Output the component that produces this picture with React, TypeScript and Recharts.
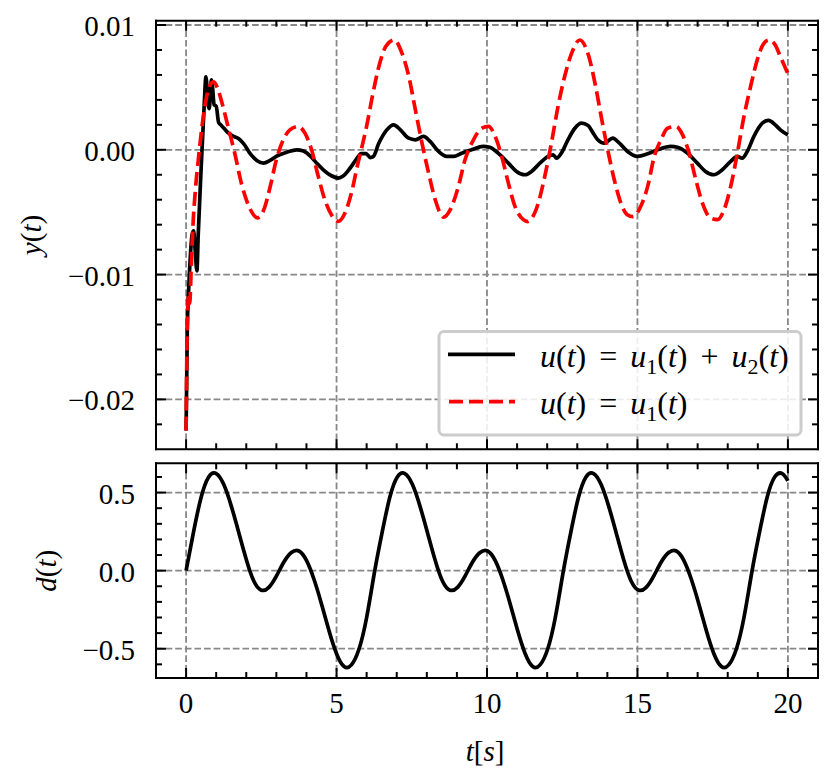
import React from 'react';
import { LineChart, Line, XAxis, YAxis, CartesianGrid, Legend } from 'recharts';

const FONT = 'Liberation Serif, Times New Roman, serif';
const FS = 29;

// ---- axis ticks ----
const xMajor = [0, 5, 10, 15, 20];
const xLabels = ['0', '5', '10', '15', '20'];
const xMinor = [0, 1, 2, 3, 4, 5, 6, 7, 8, 9, 10, 11, 12, 13, 14, 15, 16, 17, 18, 19, 20];

const yMajor = [-0.02, -0.01, 0, 0.01];
const yLabels = ['\u22120.02', '\u22120.01', '0.00', '0.01'];
const yMinor = [-0.022, -0.02, -0.018, -0.016, -0.014, -0.012, -0.01, -0.008, -0.006, -0.004, -0.002, 0, 0.002, 0.004, 0.006, 0.008, 0.01];

const dMajor = [-0.5, 0, 0.5];
const dLabels = ['\u22120.5', '0.0', '0.5'];
const dMinor = [-0.6, -0.5, -0.4, -0.3, -0.2, -0.1, 0, 0.1, 0.2, 0.3, 0.4, 0.5, 0.6];

// ---- y(t), u = u1 + u2 (solid black) ----
const solidT = [0, 0.04, 0.08, 0.13, 0.2, 0.25, 0.3, 0.36, 0.4, 0.5, 0.6, 0.66, 0.72, 0.77, 0.84, 0.88, 0.93, 1.0, 1.08, 1.15, 1.25, 1.4, 1.58, 1.74, 1.91, 2.13, 2.35, 2.57, 2.79, 3.01, 3.34, 3.68, 3.9, 4.12, 4.34, 4.56, 4.83, 5.06, 5.22, 5.44, 5.66, 5.82, 5.98, 6.12, 6.22, 6.4, 6.67, 6.9, 7.12, 7.4, 7.62, 7.89, 8.11, 8.39, 8.66, 8.89, 9.16, 9.49, 9.87, 10.09, 10.37, 10.71, 10.98, 11.26, 11.48, 11.76, 12.03, 12.2, 12.31, 12.47, 12.69, 12.92, 13.14, 13.36, 13.5, 13.68, 13.9, 14.18, 14.4, 14.67, 15.0, 15.34, 15.67, 16.11, 16.33, 16.66, 16.99, 17.26, 17.54, 17.82, 18.1, 18.32, 18.48, 18.65, 18.87, 19.15, 19.36, 19.58, 19.75, 20.0];
const solidY = [-0.0225, -0.0145, -0.0115, -0.009, -0.0068, -0.0065, -0.008, -0.0097, -0.007, -0.0015, 0.0035, 0.00585, 0.004, 0.0033, 0.0056, 0.005, 0.0036, 0.0035, 0.0022, 0.002, 0.00175, 0.00135, 0.00107, 0.0009, 0.0005, -0.0003, -0.00085, -0.00107, -0.00085, -0.0005, -0.0002, 0.0, -0.0001, -0.00048, -0.00107, -0.0016, -0.00208, -0.00227, -0.0021, -0.0015, -0.00075, -0.0003, -0.0003, -0.00062, -0.00055, 0.0005, 0.0016, 0.002, 0.0016, 0.00093, 0.0008, 0.00107, 0.00067, -0.00013, -0.00053, -0.00053, -0.00027, 0.0, 0.00027, 0.0002, -0.00027, -0.00107, -0.00173, -0.002, -0.00173, -0.00107, -0.00053, -0.0004, -0.00067, -0.00027, 0.0008, 0.00173, 0.00213, 0.00195, 0.00145, 0.0008, 0.00053, 0.00093, 0.00053, -0.00013, -0.00053, -0.00032, 0.0, 0.00027, 0.0002, -0.00027, -0.00107, -0.00173, -0.002, -0.0016, -0.00093, -0.00053, -0.00067, -0.00013, 0.00107, 0.00213, 0.00235, 0.002, 0.0016, 0.0012];

// ---- y(t), u = u1 (red dashed) ----
const dashT = [0, 0.04, 0.08, 0.12, 0.17, 0.23, 0.31, 0.42, 0.53, 0.64, 0.78, 0.92, 1.05, 1.2, 1.4, 1.6, 1.85, 2.1, 2.37, 2.6, 2.8, 3.0, 3.23, 3.45, 3.73, 3.95, 4.17, 4.39, 4.61, 4.83, 5.06, 5.28, 5.5, 5.7, 5.85, 6.0, 6.2, 6.42, 6.64, 6.92, 7.18, 7.4, 7.62, 7.84, 8.06, 8.28, 8.56, 8.78, 9.05, 9.27, 9.55, 9.83, 10.05, 10.27, 10.49, 10.71, 10.93, 11.21, 11.35, 11.5, 11.7, 11.92, 12.14, 12.36, 12.58, 12.81, 13.08, 13.37, 13.6, 13.8, 14.02, 14.25, 14.47, 14.66, 14.85, 15.11, 15.34, 15.56, 15.78, 16.0, 16.28, 16.5, 16.72, 16.94, 17.16, 17.43, 17.66, 17.88, 18.1, 18.32, 18.54, 18.76, 18.98, 19.2, 19.37, 19.58, 19.75, 20.0];
const dashY = [-0.0225, -0.014, -0.0117, -0.0123, -0.0095, -0.006, -0.0032, -0.0005, 0.0019, 0.0037, 0.0051, 0.00545, 0.0049, 0.0037, 0.0018, -0.0001, -0.0028, -0.0046, -0.00545, -0.0047, -0.0029, -0.0008, 0.0008, 0.0016, 0.00187, 0.00133, 0.0, -0.0021, -0.004, -0.0052, -0.00573, -0.00507, -0.0034, -0.0012, 0.0003, 0.0019, 0.0044, 0.0068, 0.0083, 0.0088, 0.0077, 0.0059, 0.0032, 0.00053, -0.00187, -0.004, -0.0054, -0.0048, -0.00293, -0.0008, 0.0008, 0.00173, 0.00187, 0.00107, -0.00053, -0.00267, -0.00453, -0.0056, -0.00575, -0.00545, -0.0043, -0.00213, 0.00053, 0.00347, 0.00587, 0.00773, 0.0088, 0.0076, 0.0052, 0.0026, -0.0001, -0.0026, -0.0044, -0.0052, -0.00535, -0.00453, -0.00293, -0.00053, 0.0008, 0.00173, 0.00187, 0.0012, -0.00027, -0.0024, -0.00427, -0.00547, -0.0056, -0.0048, -0.00293, -0.00027, 0.00267, 0.00507, 0.0072, 0.00853, 0.0088, 0.0084, 0.00747, 0.0061];

// ---- d(t) ----
const dT = [0, 0.25, 0.5, 0.75, 1, 1.25, 1.5, 1.75, 2, 2.25, 2.5, 2.75, 3, 3.25, 3.5, 3.75, 4, 4.25, 4.5, 4.75, 5, 5.25, 5.5, 5.75, 6,
  6.27, 6.52, 6.77, 7.02, 7.27, 7.52, 7.77, 8.02, 8.27, 8.52, 8.77, 9.02, 9.27, 9.52, 9.77, 10.02, 10.27, 10.52, 10.77, 11.02, 11.27, 11.52, 11.77, 12.02, 12.27,
  12.54, 12.79, 13.04, 13.29, 13.54, 13.79, 14.04, 14.29, 14.54, 14.79, 15.04, 15.29, 15.54, 15.79, 16.04, 16.29, 16.54, 16.79, 17.04, 17.29, 17.54, 17.79, 18.04, 18.29, 18.54,
  18.81, 19.06, 19.31, 19.56, 19.81, 20];
const dY = [0, 0.25, 0.47, 0.6, 0.622, 0.553, 0.415, 0.245, 0.072, -0.066, -0.125, -0.107, -0.035, 0.055, 0.116, 0.126, 0.066, -0.055, -0.213, -0.385, -0.532, -0.614, -0.602, -0.5, -0.3,
  0, 0.25, 0.47, 0.6, 0.622, 0.553, 0.415, 0.245, 0.072, -0.066, -0.125, -0.107, -0.035, 0.055, 0.116, 0.126, 0.066, -0.055, -0.213, -0.385, -0.532, -0.614, -0.602, -0.5, -0.3,
  0, 0.25, 0.47, 0.6, 0.622, 0.553, 0.415, 0.245, 0.072, -0.066, -0.125, -0.107, -0.035, 0.055, 0.116, 0.126, 0.066, -0.055, -0.213, -0.385, -0.532, -0.614, -0.602, -0.5, -0.3,
  0, 0.25, 0.47, 0.6, 0.622, 0.575];

const solidData = solidT.map((t, i) => ({ t, y: solidY[i] }));
const dashData = dashT.map((t, i) => ({ t, y: dashY[i] }));
const dData = dT.map((t, i) => ({ t, y: dY[i] }));

const W = 832;
const H = 782;
const PLOT_LEFT = 156;
const PLOT_RIGHT = 818;
const MAJOR = 10;
const MINOR = 6;
const DASH = '14 6';
const LW = 3.7;
const AX = 1; // axis thickness reserved by each axis

type Side = 'bottom' | 'top' | 'left' | 'right';

const txt: React.CSSProperties = { fontFamily: FONT };

const makeTick = (side: Side, majors: number[], labels: string[] | null) => (props: any) => {
  const { x, y, payload } = props;
  const v = payload.value as number;
  const mi = majors.findIndex((m) => Math.abs(m - v) < 1e-9);
  const len = mi >= 0 ? MAJOR : MINOR;
  let x2 = x;
  let y2 = y;
  if (side === 'bottom') y2 = y - len;
  if (side === 'top') y2 = y + len;
  if (side === 'left') x2 = x + len;
  if (side === 'right') x2 = x - len;
  let label = null;
  if (labels && mi >= 0) {
    label =
      side === 'bottom' ? (
        <text x={x} y={y + 34.5} textAnchor="middle" style={txt} fontSize={FS} fill="#000">
          {labels[mi]}
        </text>
      ) : (
        <text x={x - 21} y={y + 11} textAnchor="end" style={txt} fontSize={FS} fill="#000">
          {labels[mi]}
        </text>
      );
  }
  return (
    <g>
      <line x1={x} y1={y} x2={x2} y2={y2} stroke="#000" strokeWidth={2} />
      {label}
    </g>
  );
};

const axisLine = { stroke: '#000', strokeWidth: 2, strokeLinecap: 'square' as const };

const it = (s: string) => <tspan fontStyle="italic">{s}</tspan>;

const LFS = 32;
const GAP = 13;

const LegendBox = () => (
  <svg width={370} height={111} style={{ display: 'block' }}>
    <rect x={4} y={3.5} width={362} height={103.5} rx={5} ry={5} fill="#fff" fillOpacity={0.85} stroke="#cccccc" strokeWidth={3} />
    <line x1={13} y1={26.3} x2={80} y2={26.3} stroke="#000" strokeWidth={LW} />
    <line x1={14} y1={73.7} x2={80} y2={73.7} stroke="#ff0000" strokeWidth={LW} strokeDasharray={DASH} />
    <text x={105} y={38.7} style={txt} fontSize={LFS} fill="#000">
      {it('u')}({it('t')})<tspan dx={GAP}>=</tspan>
      <tspan dx={GAP} fontStyle="italic">u</tspan>
      <tspan fontSize={22} dy={7}>1</tspan>
      <tspan dy={-7}>(</tspan>{it('t')})<tspan dx={GAP}>+</tspan>
      <tspan dx={GAP} fontStyle="italic">u</tspan>
      <tspan fontSize={22} dy={7}>2</tspan>
      <tspan dy={-7}>(</tspan>{it('t')})
    </text>
    <text x={105} y={86.3} style={txt} fontSize={LFS} fill="#000">
      {it('u')}({it('t')})<tspan dx={GAP}>=</tspan>
      <tspan dx={GAP} fontStyle="italic">u</tspan>
      <tspan fontSize={22} dy={7}>1</tspan>
      <tspan dy={-7}>(</tspan>{it('t')})
    </text>
  </svg>
);

const chartStyle: React.CSSProperties = { position: 'absolute', left: 0, top: 0 };

const xProps = {
  type: 'number' as const,
  dataKey: 't',
  domain: [-1, 21],
  allowDataOverflow: true,
  ticks: xMinor,
  interval: 0,
  height: AX,
  tickSize: 0,
  tickMargin: 0,
  tickLine: false,
  axisLine,
};

const yProps = {
  type: 'number' as const,
  allowDataOverflow: true,
  interval: 0,
  width: AX,
  tickSize: 0,
  tickMargin: 0,
  tickLine: false,
  axisLine,
};

export default function App() {
  return (
    <div style={{ position: 'absolute', left: 0, top: 0, width: W, height: H, background: '#fff', fontFamily: FONT }}>
      {/* upper panel: y(t) */}
      <div style={chartStyle}>
        <LineChart width={W} height={H} margin={{ top: 20.7 - AX, right: W - PLOT_RIGHT - AX, bottom: H - 449.3 - AX, left: PLOT_LEFT - AX }}>
          <CartesianGrid xAxisId="b" yAxisId="l" verticalValues={xMajor} horizontalValues={yMajor} stroke="#888" strokeWidth={1.8} strokeDasharray="6.7 2.9" />
          <XAxis xAxisId="b" {...xProps} tick={makeTick('bottom', xMajor, null)} />
          <XAxis xAxisId="top" orientation="top" {...xProps} tick={makeTick('top', xMajor, null)} />
          <YAxis yAxisId="l" {...yProps} domain={[-0.024, 0.010345]} ticks={yMinor} tick={makeTick('left', yMajor, yLabels)} />
          <YAxis yAxisId="r" orientation="right" {...yProps} domain={[-0.024, 0.010345]} ticks={yMinor} tick={makeTick('right', yMajor, null)} />
          <Line xAxisId="b" yAxisId="l" data={solidData} dataKey="y" type="monotone" stroke="#000" strokeWidth={LW} dot={false} activeDot={false} isAnimationActive={false} />
          <Line xAxisId="b" yAxisId="l" data={dashData} dataKey="y" type="monotone" stroke="#ff0000" strokeWidth={LW} strokeDasharray={DASH} dot={false} activeDot={false} isAnimationActive={false} />
          <Line xAxisId="top" yAxisId="r" data={dashData} dataKey="y" stroke="none" dot={false} activeDot={false} legendType="none" isAnimationActive={false} />
          <Legend layout="horizontal" verticalAlign="middle" align="center" content={LegendBox} wrapperStyle={{ left: 435, top: 328, width: 370, height: 111 }} />
        </LineChart>
      </div>
      {/* lower panel: d(t) */}
      <div style={chartStyle}>
        <LineChart width={W} height={H} margin={{ top: 463.3 - AX, right: W - PLOT_RIGHT - AX, bottom: H - 678 - AX, left: PLOT_LEFT - AX }}>
          <CartesianGrid xAxisId="b" yAxisId="l" verticalValues={xMajor} horizontalValues={dMajor} stroke="#888" strokeWidth={1.8} strokeDasharray="6.7 2.9" />
          <XAxis xAxisId="b" {...xProps} tick={makeTick('bottom', xMajor, xLabels)} />
          <XAxis xAxisId="top" orientation="top" {...xProps} tick={makeTick('top', xMajor, null)} />
          <YAxis yAxisId="l" {...yProps} domain={[-0.6875, 0.6875]} ticks={dMinor} tick={makeTick('left', dMajor, dLabels)} />
          <YAxis yAxisId="r" orientation="right" {...yProps} domain={[-0.6875, 0.6875]} ticks={dMinor} tick={makeTick('right', dMajor, null)} />
          <Line xAxisId="b" yAxisId="l" data={dData} dataKey="y" type="natural" stroke="#000" strokeWidth={LW} dot={false} activeDot={false} isAnimationActive={false} />
          <Line xAxisId="top" yAxisId="r" data={dData} dataKey="y" stroke="none" dot={false} activeDot={false} legendType="none" isAnimationActive={false} />
        </LineChart>
      </div>
      {/* axis titles */}
      <svg width={W} height={H} style={{ position: 'absolute', left: 0, top: 0, pointerEvents: 'none' }}>
        <text transform="translate(40.5,235) rotate(-90)" textAnchor="middle" style={txt} fontSize={FS} fill="#000">
          {it('y')}({it('t')})
        </text>
        <text transform="translate(55.5,570.7) rotate(-90)" textAnchor="middle" style={txt} fontSize={FS} fill="#000">
          {it('d')}({it('t')})
        </text>
        <text x={485} y={761} textAnchor="middle" style={txt} fontSize={FS} fill="#000">
          {it('t')}[{it('s')}]
        </text>
      </svg>
    </div>
  );
}
